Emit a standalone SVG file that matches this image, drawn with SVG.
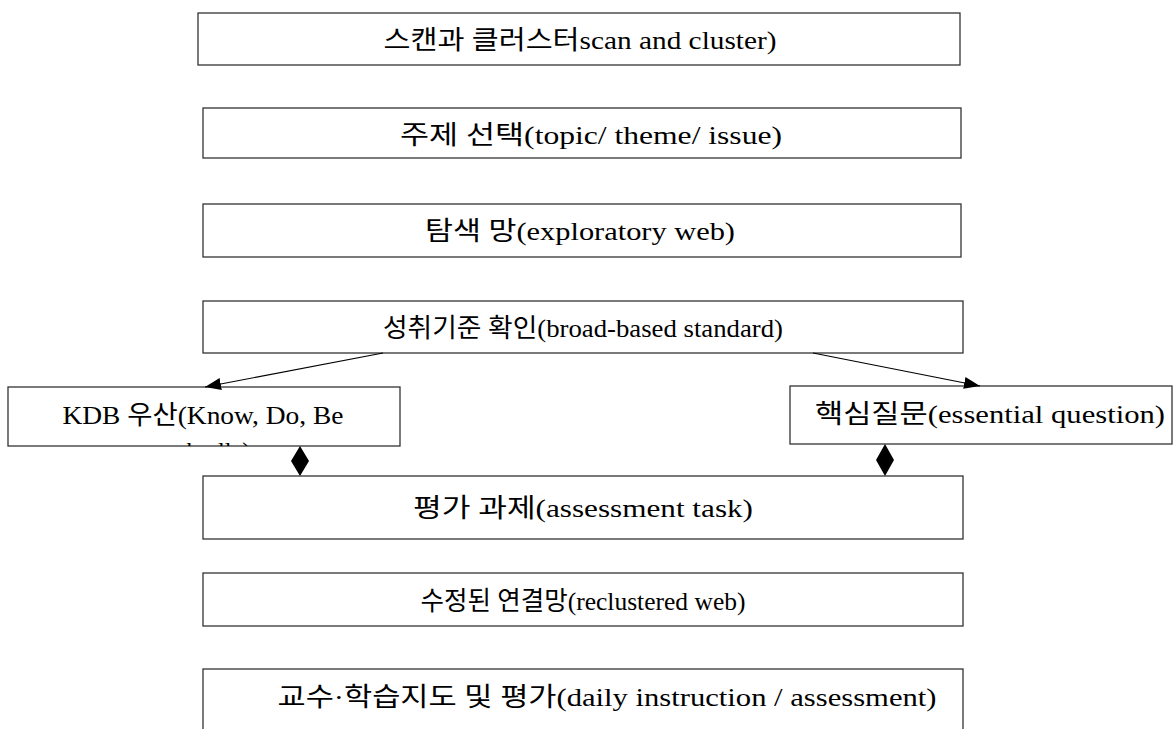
<svg xmlns="http://www.w3.org/2000/svg" width="1175" height="729" viewBox="0 0 1175 729">
<defs>
<style>
.box{fill:#fff;stroke:#333;stroke-width:1.3}
.t{font-family:"Liberation Serif","Noto Sans CJK KR",serif;font-size:26px;fill:#000;text-anchor:middle}
.c{stroke:#000;stroke-width:1.2;fill:none}
</style>
<marker id="arr" viewBox="0 0 16 12" refX="16" refY="6" markerWidth="16" markerHeight="12" markerUnits="userSpaceOnUse" orient="auto">
<path d="M0,0 L16,6 L0,12 Z" fill="#000"/>
</marker>
<clipPath id="kdbclip"><rect x="8" y="387" width="392" height="59"/></clipPath>
</defs>
<rect width="1175" height="729" fill="#fff"/>
<g id="n1"><rect class="box" x="198" y="13" width="762" height="52"/><text class="t" x="580" y="49" textLength="393" lengthAdjust="spacingAndGlyphs">스캔과 클러스터scan and cluster)</text></g>
<g id="n2"><rect class="box" x="203" y="108" width="758" height="50"/><text class="t" x="591" y="144" textLength="382" lengthAdjust="spacingAndGlyphs">주제 선택(topic/ theme/ issue)</text></g>
<g id="n3"><rect class="box" x="203" y="204" width="758" height="53"/><text class="t" x="580" y="240" textLength="310" lengthAdjust="spacingAndGlyphs">탐색 망(exploratory web)</text></g>
<g id="n4"><rect class="box" x="203" y="301" width="760" height="52"/><text class="t" x="583" y="337" textLength="400" lengthAdjust="spacingAndGlyphs">성취기준 확인(broad-based standard)</text></g>
<g id="n5"><rect class="box" x="8" y="387" width="392" height="59"/><text class="t" x="203" y="424" textLength="281" lengthAdjust="spacingAndGlyphs">KDB 우산(Know, Do, Be</text><text class="t" x="203" y="460" clip-path="url(#kdbclip)" textLength="95" lengthAdjust="spacingAndGlyphs">umbrella)</text></g>
<g id="n6"><rect class="box" x="790" y="386" width="382" height="58"/><text class="t" x="990" y="423" textLength="350" lengthAdjust="spacingAndGlyphs">핵심질문(essential question)</text></g>
<g id="n7"><rect class="box" x="203" y="476" width="760" height="63"/><text class="t" x="583" y="517" textLength="340" lengthAdjust="spacingAndGlyphs">평가 과제(assessment task)</text></g>
<g id="n8"><rect class="box" x="203" y="573" width="760" height="53"/><text class="t" x="583" y="610" textLength="325" lengthAdjust="spacingAndGlyphs">수정된 연결망(reclustered web)</text></g>
<g id="n9"><rect class="box" x="203" y="669" width="760" height="70"/><text class="t" x="607" y="706" textLength="659" lengthAdjust="spacingAndGlyphs">교수·학습지도 및 평가(daily instruction / assessment)</text></g>
<g id="connectors">
<line class="c" x1="383" y1="353" x2="205" y2="387" marker-end="url(#arr)"/>
<line class="c" x1="813" y1="353" x2="980" y2="386" marker-end="url(#arr)"/>
<path d="M300,446 L309,461 L300,476 L291,461 Z" fill="#000"/>
<path d="M885,444 L894,460 L885,476 L876,460 Z" fill="#000"/>
</g>
</svg>
